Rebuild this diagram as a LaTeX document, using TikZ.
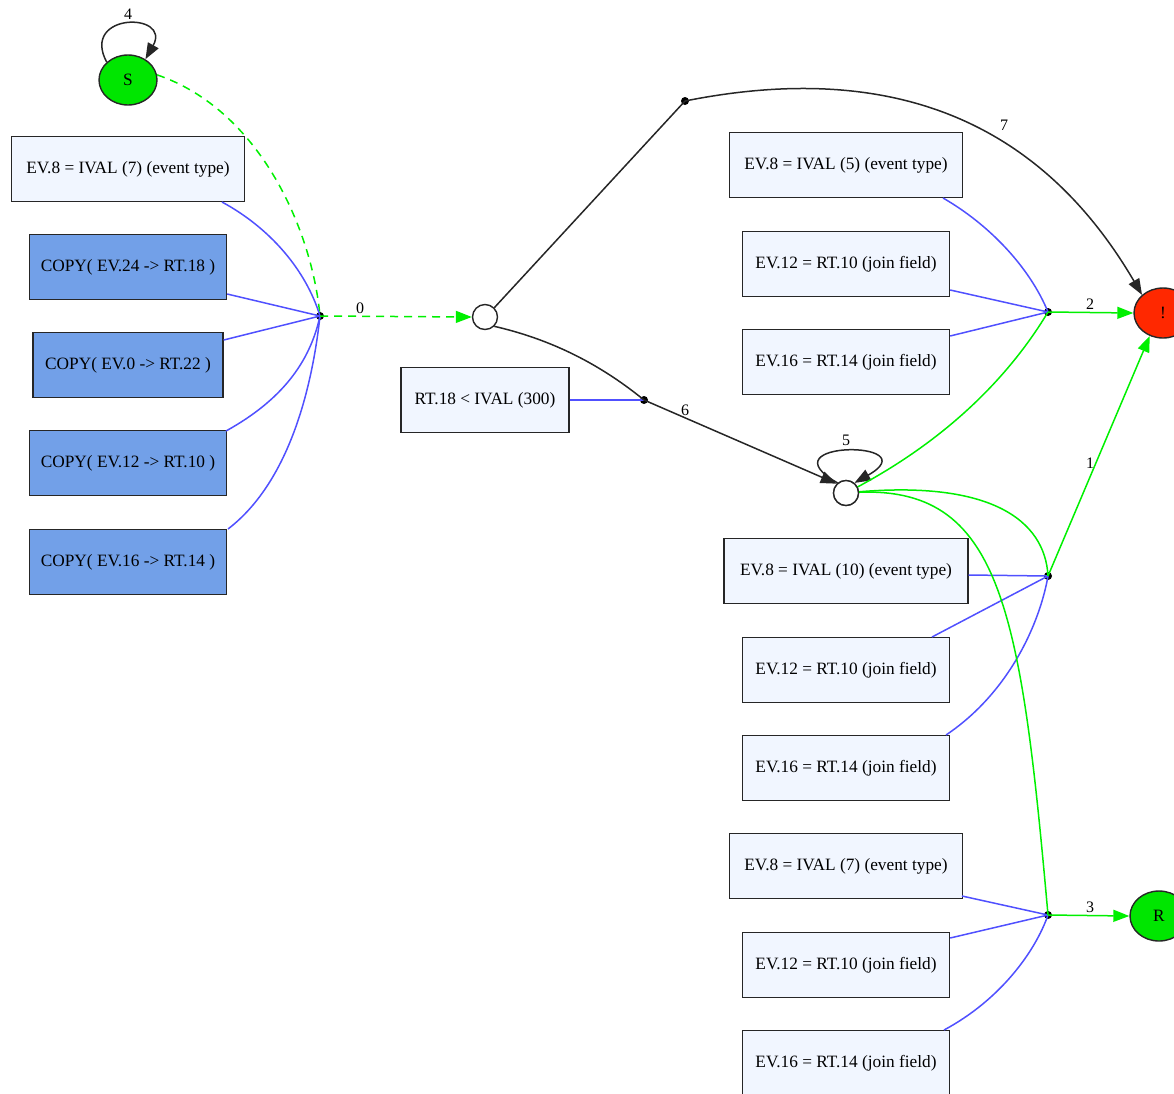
\documentclass[tikz,border=0pt]{standalone}
\usepackage{fontspec}
\setmainfont{Liberation Serif}
\usetikzlibrary{arrows.meta,shapes.geometric}
\definecolor{boxfill}{RGB}{241,246,255}
\definecolor{copyfill}{RGB}{114,160,232}
\definecolor{eblue}{RGB}{80,80,255}
\definecolor{egreen}{RGB}{0,240,0}
\definecolor{ered}{RGB}{255,40,0}
\definecolor{sgreen}{RGB}{0,230,0}
\begin{document}
\begin{tikzpicture}[x=1pt,y=-1pt,
  font=\fontsize{17.3}{20}\selectfont,
  box/.style={draw=black!85, line width=1.3pt, fill=boxfill, minimum height=65pt, inner sep=0pt},
  copybox/.style={box, fill=copyfill},
  dot/.style={circle, fill=black, inner sep=0pt, minimum size=8pt},
  state/.style={circle, draw=black!85, line width=1.4pt, fill=white, inner sep=0pt, minimum size=25pt},
  blob/.style={ellipse, draw=black!85, line width=1.4pt, inner sep=0pt, minimum width=58pt, minimum height=50pt},
  bl/.style={eblue, line width=1.5pt},
  gr/.style={egreen, line width=1.5pt},
  bk/.style={black!85, line width=1.5pt},
  tip/.style={-{Triangle[length=16pt,width=12pt]}},
  lab/.style={font=\fontsize{16}{18}\selectfont, inner sep=1pt}
]
\useasboundingbox (0,0) rectangle (1174,1093);

% left side
\node[blob, fill=sgreen] (S) at (128,80) {S};
\node[box, minimum width=233pt] (L1) at (128,169) {EV.8 = IVAL (7) (event type)};
\node[copybox, minimum width=197pt] (L2) at (128,267) {COPY( EV.24 -> RT.18 )};
\node[copybox, minimum width=190pt] (L3) at (128,365) {COPY( EV.0 -> RT.22 )};
\node[copybox, minimum width=197pt] (L4) at (128,463) {COPY( EV.12 -> RT.10 )};
\node[copybox, minimum width=197pt] (L5) at (128,562) {COPY( EV.16 -> RT.14 )};
\node[dot] (D0) at (320,316) {};

\draw[bk, tip] (S.140) .. controls (80,12) and (172,12) .. (S.50);
\node[lab] (l4) at (128,14) {4};

\draw[gr, dashed, dash pattern=on 8pt off 6pt] (S.10) .. controls (260,110) and (312,230) .. (D0.center);
\draw[bl] (222,202) .. controls (270,228) and (306,270) .. (D0.center);
\draw[bl] (L2.east |- 0,294) -- (D0.center);
\draw[bl] (L3.east |- 0,340) -- (D0.center);
\draw[bl] (226,431) .. controls (282,400) and (310,362) .. (D0.center);
\draw[bl] (228,529) .. controls (292,480) and (313,380) .. (D0.center);

% middle
\node[state] (C1) at (485,317) {};
\draw[gr, dashed, dash pattern=on 8pt off 6pt, tip] (D0.center) -- (C1.west);
\node[lab] (l0) at (360,308) {0};

\node[dot] (D7) at (685,101) {};
\node[dot] (D6) at (644,400) {};
\node[box, minimum width=168pt] (M1) at (485,400) {RT.18 < IVAL (300)};
\draw[bl] (M1.east) -- (D6.center);

\node[blob, fill=ered] (X) at (1163,313) {!};
\node[blob, fill=sgreen] (R) at (1159,916) {R};
\node[state] (C2) at (846,493) {};

\draw[bk] (C1.north east) -- (D7.center);
\draw[bk, tip] (D7.center) .. controls (880,62) and (1035,112) .. (X.north west);
\node[lab] (l7) at (1004,125) {7};
\draw[bk] (C1.south east) .. controls (545,338) and (595,360) .. (D6.center);
\draw[bk, tip] (D6.center) -- (C2.north west);
\node[lab] (l6) at (685,410) {6};
\draw[bk, tip] (C2.130) .. controls (762,440) and (930,440) .. (C2.50);
\node[lab] (l5) at (846,440) {5};

% right group 1
\node[box, minimum width=233pt] (A1) at (846,165) {EV.8 = IVAL (5) (event type)};
\node[box, minimum width=207pt] (A2) at (846,264) {EV.12 = RT.10 (join field)};
\node[box, minimum width=207pt] (A3) at (846,362) {EV.16 = RT.14 (join field)};
\node[dot] (D2) at (1048,312) {};
\draw[bl] (943,198) .. controls (990,225) and (1030,268) .. (D2.center);
\draw[bl] (A2.east |- 0,290) -- (D2.center);
\draw[bl] (A3.east |- 0,336) -- (D2.center);
\draw[gr] (C2.center) .. controls (950,440) and (1012,372) .. (D2.center);
\draw[gr, tip] (D2.center) -- (X.west);
\node[lab] (l2) at (1090,304) {2};

% right group 2
\node[box, minimum width=244pt] (B1) at (846,571) {EV.8 = IVAL (10) (event type)};
\node[box, minimum width=207pt] (B2) at (846,670) {EV.12 = RT.10 (join field)};
\node[box, minimum width=207pt] (B3) at (846,768) {EV.16 = RT.14 (join field)};
\node[dot] (D1) at (1048,576) {};
\draw[bl] (B1.east |- 0,575) -- (D1.center);
\draw[bl] (932,637) -- (D1.center);
\draw[bl] (946,735) .. controls (1010,692) and (1040,622) .. (D1.center);
\draw[gr] (C2.center) .. controls (990,478) and (1045,520) .. (D1.center);
\draw[gr, tip] (D1.center) -- (X.240);
\node[lab] (l1) at (1090,463) {1};

% right group 3
\node[box, minimum width=233pt] (G1) at (846,866) {EV.8 = IVAL (7) (event type)};
\node[box, minimum width=207pt] (G2) at (846,965) {EV.12 = RT.10 (join field)};
\node[box, minimum width=207pt] (G3) at (846,1063) {EV.16 = RT.14 (join field)};
\node[dot] (D3) at (1048,915) {};
\draw[bl] (962,896) -- (D3.center);
\draw[bl] (G2.east |- 0,938) -- (D3.center);
\draw[bl] (944,1030) .. controls (1000,1000) and (1035,952) .. (D3.center);
\draw[gr] (C2.center) .. controls (1000,480) and (1020,600) .. (D3.center);
\draw[gr, tip] (D3.center) -- (R.west);
\node[lab] (l3) at (1090,907) {3};

% redraw circle on top of green edges
\node[state] (C2top) at (C2) {};
\end{tikzpicture}
\end{document}
